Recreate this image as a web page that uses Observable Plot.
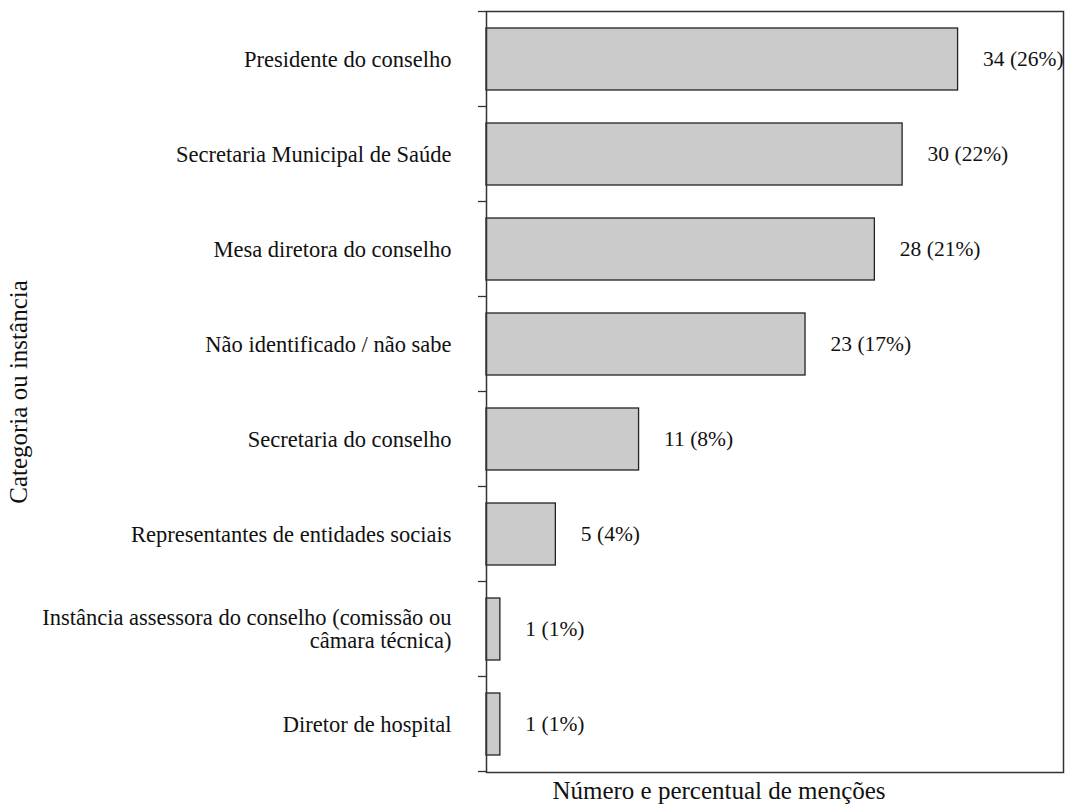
<!DOCTYPE html>
<html>
<head>
<meta charset="utf-8">
<script src="https://cdn.jsdelivr.net/npm/d3@7"></script>
<script src="https://cdn.jsdelivr.net/npm/@observablehq/plot@0.6"></script>
<style>
  html, body { margin: 0; padding: 0; background: #fff; }
  #chart svg { display: block; }
</style>
</head>
<body>
<div id="chart"></div>
<script>
const categories = [
  "Presidente do conselho",
  "Secretaria Municipal de Saúde",
  "Mesa diretora do conselho",
  "Não identificado / não sabe",
  "Secretaria do conselho",
  "Representantes de entidades sociais",
  "Instância assessora do conselho (comissão ou\ncâmara técnica)",
  "Diretor de hospital"
];
const counts = [34, 30, 28, 23, 11, 5, 1, 1];
const percents = [26, 22, 21, 17, 8, 4, 1, 1];
const xLabel = "Número e percentual de menções";
const yLabel = "Categoria ou instância";

const data = categories.map((c, i) => ({cat: c, n: counts[i], p: percents[i]}));
const FONT = "Liberation Serif, Times New Roman, serif";

const W = 1067, H = 805, ML = 486, MR = 4, MT = 11, MB = 33;

const plot = Plot.plot({
  width: W, height: H,
  marginLeft: ML, marginRight: MR, marginTop: MT, marginBottom: MB,
  style: {fontFamily: FONT, fontSize: "22px", color: "#111", background: "#fff"},
  x: {domain: [0, 41.6], axis: null},
  y: {domain: categories, paddingInner: 0.35, paddingOuter: 0.175, axis: null},
  marks: [
    Plot.barX(data, {y: "cat", x: "n", fill: "#cbcbcb", stroke: "#222", strokeWidth: 1.3}),
    Plot.text(data, {y: "cat", x: "n", text: d => `${d.n} (${d.p}%)`, textAnchor: "start", dx: 25, fontSize: 21.5, fill: "#111"}),
    Plot.axisY({tickSize: 0, tickPadding: 35, fontSize: 22.5, lineHeight: 1.02, label: null, tickFormat: d => d}),
    Plot.frame({stroke: "#333", strokeWidth: 1.5}),
    Plot.text([xLabel], {frameAnchor: "bottom", dy: 18, dx: -56, fontSize: 25, text: d => d, fill: "#111", lineAnchor: "middle", textAnchor: "middle"}),
    Plot.text([yLabel], {frameAnchor: "left", dx: -468, rotate: -90, fontSize: 25, text: d => d, fill: "#111", textAnchor: "middle", lineAnchor: "middle"})
  ]
});

document.getElementById("chart").appendChild(plot);

// band-boundary ticks on the left axis
const ys = plot.scale("y");
const half = (ys.step - ys.bandwidth) / 2;
const bounds = categories.map(c => ys.apply(c) - half);
bounds.push(ys.apply(categories[categories.length - 1]) + ys.bandwidth + half);
d3.select(plot).append("g")
  .attr("stroke", "#333").attr("stroke-width", 1.3)
  .selectAll("line").data(bounds).join("line")
  .attr("x1", ML - 8).attr("x2", ML)
  .attr("y1", d => d).attr("y2", d => d);
</script>
</body>
</html>
